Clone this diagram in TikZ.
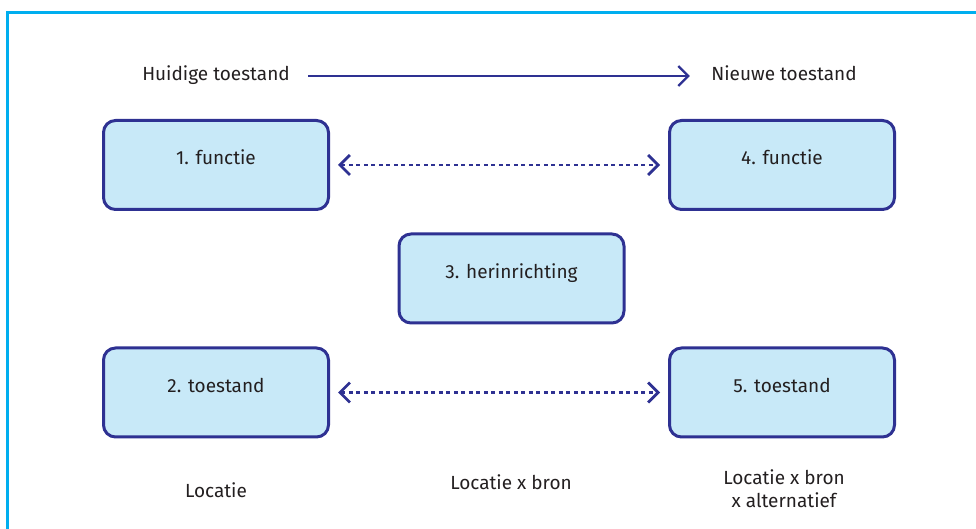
\documentclass[tikz,border=0pt]{standalone}
\usepackage{fontspec}
\setmainfont{Fira Sans}
\usepackage{tikz}
\usetikzlibrary{arrows.meta,positioning}

\definecolor{navy}{HTML}{2E3192}
\definecolor{lichtblauw}{HTML}{C8E9F8}
\definecolor{cyaan}{HTML}{00AEEF}
\definecolor{tekst}{HTML}{231F20}

\begin{document}
\begin{tikzpicture}[x=0.5pt,y=-0.5pt, font=\fontsize{9.5}{11.5}\selectfont, text=tekst,
blok/.style={draw=navy,fill=lichtblauw,line width=1.5pt,rounded corners=6pt,align=center,
  minimum width=112.5pt,minimum height=44.5pt,text height=7pt,text depth=7pt},
kop/.style={inner sep=0pt,text height=7pt,text depth=2pt},
onder/.style={inner sep=0pt,align=center},
pijl/.style={-{Straight Barb[length=5pt,width=10pt]},navy,line width=1.2pt},
stip/.style={{Straight Barb[length=5pt,width=10pt]}-{Straight Barb[length=5pt,width=10pt]},
  navy,line width=1.35pt,dash pattern=on 2pt off 1.75pt,shorten <=4pt,shorten >=4pt}]
\useasboundingbox (0,0) rectangle (976,529);
\draw[cyaan,line width=1.5pt] (7.5,540) |- (990,12.5);
\node[kop] (huidig) at (216,76) {Huidige toestand};
\node[kop] (nieuw) at (784,76) {Nieuwe toestand};
\node[blok] (f1) at (216,165) {1. functie};
\node[blok] (f4) at (782,165) {4. functie};
\node[blok] (h3) at (511.5,278.5) {3. herinrichting};
\node[blok] (t2) at (216,392.5) {2. toestand};
\node[blok] (t5) at (782,392.5) {5. toestand};
\node[onder,below=22pt of t2] (loc1) {Locatie};
\node[onder] (loc2) at (511,482) {Locatie x bron};
\node[onder] (loc3) at (784,489) {Locatie x bron\\x alternatief};
\draw[pijl,shorten <=9pt,shorten >=10.5pt] (huidig) -- (nieuw);
\draw[stip] (f1) -- (f4);
\draw[stip] (t2) -- (t5);
\end{tikzpicture}
\end{document}
